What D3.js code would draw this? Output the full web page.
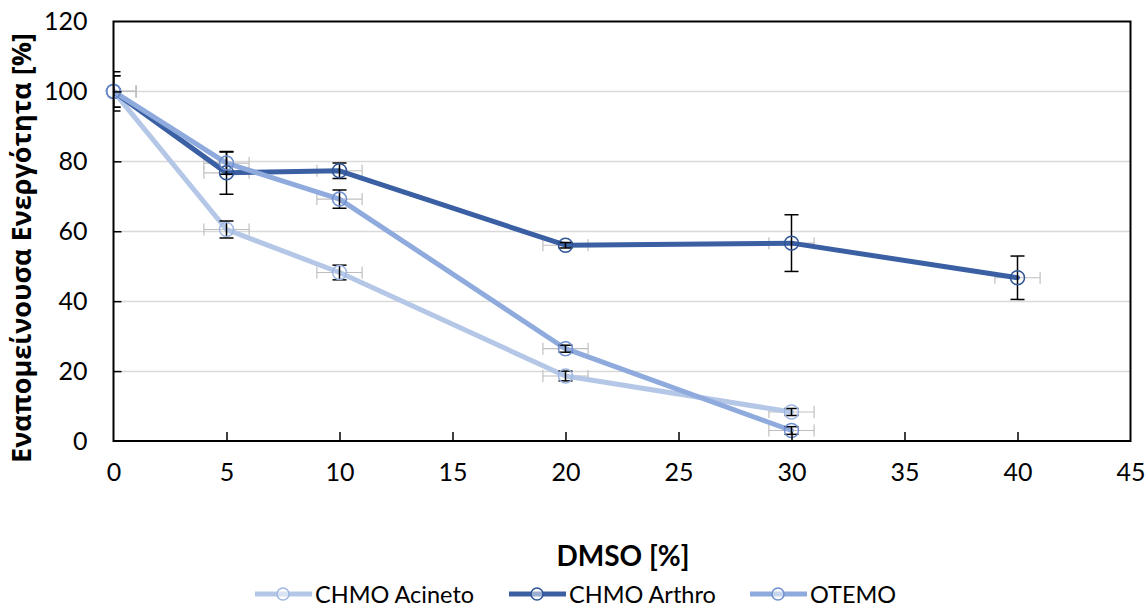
<!DOCTYPE html>
<html lang="el">
<head>
  <meta charset="UTF-8">
  <title>Εναπομείνουσα Ενεργότητα vs DMSO</title>
  <script src="https://d3js.org/d3.v7.min.js"></script>
  <style>
    body { margin: 0; background: #fff; font-family: Lato, 'Open Sans', sans-serif; }
    svg { display: block; }
  </style>
</head>
<body>
  <svg width="1146" height="607"></svg>
  <script>
    // series data: x = DMSO %, y = remaining activity %, err = y error
    const acinetoX = [0, 5, 10, 20, 30];
    const acinetoY = [100, 60.5, 48.2, 18.6, 8.3];
    const acinetoErr = [4.5, 2.4, 2.1, 1.4, 1.0];

    const arthroX = [0, 5, 10, 20, 30, 40];
    const arthroY = [100, 76.7, 77.3, 56.0, 56.6, 46.7];
    const arthroErr = [5.6, 6.1, 2.2, 0.8, 8.1, 6.2];

    const otemoX = [0, 5, 10, 20, 30];
    const otemoY = [100, 79.5, 69.2, 26.4, 3.0];
    const otemoErr = [4.5, 3.2, 2.6, 1.0, 1.1];

    const xErr = 1;
    const xTicks = [0, 5, 10, 15, 20, 25, 30, 35, 40, 45];
    const yTicks = [0, 20, 40, 60, 80, 100, 120];

    const seriesNames = ["CHMO Acineto", "CHMO Arthro", "OTEMO"];
    const lineColors = ["#b4c7e7", "#3a5fa3", "#8faadc"];
    const markerColors = ["#9fb7e2", "#2f5597", "#6f8fd0"];

    const series = [
      { name: seriesNames[0], x: acinetoX, y: acinetoY, e: acinetoErr },
      { name: seriesNames[1], x: arthroX, y: arthroY, e: arthroErr },
      { name: seriesNames[2], x: otemoX, y: otemoY, e: otemoErr }
    ].map((s, i) => ({
      ...s,
      line: lineColors[i],
      marker: markerColors[i],
      pts: s.x.map((v, j) => ({ x: v, y: s.y[j], e: s.e[j] }))
    }));

    const svg = d3.select("svg");
    const m = { left: 113.5, right: 1130.5, top: 21.5, bottom: 441 };

    const x = d3.scaleLinear().domain([0, 45]).range([m.left, m.right]);
    const y = d3.scaleLinear().domain([0, 120]).range([m.bottom, m.top]);

    svg.append("defs").append("clipPath").attr("id", "plotClip")
      .append("rect").attr("x", m.left).attr("y", m.top - 10)
      .attr("width", m.right - m.left).attr("height", m.bottom - m.top + 20);

    // gridlines
    svg.append("g")
      .selectAll("line")
      .data(yTicks.filter(t => t > 0 && t < 120))
      .join("line")
      .attr("x1", m.left).attr("x2", m.right)
      .attr("y1", d => Math.round(y(d)) + 0.5).attr("y2", d => Math.round(y(d)) + 0.5)
      .attr("stroke", "#d9d9d9").attr("stroke-width", 1.5);

    const plot = svg.append("g").attr("clip-path", "url(#plotClip)");

    // x error bars (grey)
    series.forEach(s => {
      const g = plot.append("g").attr("stroke", "#bfbfbf").attr("stroke-width", 1.2);
      s.pts.forEach(p => {
        const cy = y(p.y);
        g.append("line").attr("x1", x(p.x - xErr)).attr("x2", x(p.x + xErr)).attr("y1", cy).attr("y2", cy);
        g.append("line").attr("x1", x(p.x - xErr)).attr("x2", x(p.x - xErr)).attr("y1", cy - 6).attr("y2", cy + 6);
        g.append("line").attr("x1", x(p.x + xErr)).attr("x2", x(p.x + xErr)).attr("y1", cy - 6).attr("y2", cy + 6);
      });
    });

    // lines
    const lineGen = d3.line().x(d => x(d.x)).y(d => y(d.y));
    series.forEach(s => {
      plot.append("path")
        .datum(s.pts)
        .attr("fill", "none")
        .attr("stroke", s.line)
        .attr("stroke-width", 5)
        .attr("stroke-linejoin", "round")
        .attr("stroke-linecap", "round")
        .attr("d", lineGen);
    });

    // y error bars (black)
    series.forEach(s => {
      const g = plot.append("g").attr("stroke", "#000").attr("stroke-width", 1.5);
      s.pts.forEach(p => {
        const cx = x(p.x);
        g.append("line").attr("x1", cx).attr("x2", cx).attr("y1", y(p.y - p.e)).attr("y2", y(p.y + p.e));
        g.append("line").attr("x1", cx - 7).attr("x2", cx + 7).attr("y1", y(p.y - p.e)).attr("y2", y(p.y - p.e));
        g.append("line").attr("x1", cx - 7).attr("x2", cx + 7).attr("y1", y(p.y + p.e)).attr("y2", y(p.y + p.e));
      });
    });

    // markers
    series.forEach(s => {
      svg.append("g")
        .selectAll("circle")
        .data(s.pts)
        .join("circle")
        .attr("cx", d => x(d.x))
        .attr("cy", d => y(d.y))
        .attr("r", 7)
        .attr("fill", "none")
        .attr("stroke", s.marker)
        .attr("stroke-width", 1.5);
    });

    // plot box
    svg.append("rect")
      .attr("x", m.left).attr("y", m.top)
      .attr("width", m.right - m.left).attr("height", m.bottom - m.top)
      .attr("fill", "none").attr("stroke", "#000").attr("stroke-width", 2);

    // axes with inward ticks
    const xAxis = svg.append("g")
      .attr("transform", `translate(0,${m.bottom})`)
      .call(d3.axisBottom(x).tickValues(xTicks).tickSize(-9).tickPadding(22));
    const yAxis = svg.append("g")
      .attr("transform", `translate(${m.left},0)`)
      .call(d3.axisLeft(y).tickValues(yTicks).tickSize(-8).tickPadding(26));

    [xAxis, yAxis].forEach(a => {
      a.select(".domain").remove();
      a.selectAll(".tick line").attr("stroke", "#000").attr("stroke-width", 1.5);
      a.selectAll(".tick text")
        .attr("fill", "#000")
        .style("font-family", "Lato, 'Open Sans', sans-serif")
        .style("font-size", "25px");
    });
    xAxis.selectAll(".tick").filter(d => d === 0 || d === 45).select("line").remove();
    yAxis.selectAll(".tick").filter(d => d === 0 || d === 120).select("line").remove();

    // axis titles
    svg.append("text")
      .attr("x", 623).attr("y", 566)
      .attr("text-anchor", "middle")
      .style("font-size", "28px").style("font-weight", "bold")
      .text("DMSO [%]");

    svg.append("text")
      .attr("transform", "translate(31,248) rotate(-90)")
      .attr("text-anchor", "middle")
      .style("font-family", "'Open Sans', sans-serif")
      .style("font-size", "27px").style("font-weight", "bold")
      .text("Εναπομείνουσα Ενεργότητα [%]");

    // legend
    const legendX = [255, 509, 750];
    const legend = svg.append("g");
    series.forEach((s, i) => {
      const g = legend.append("g").attr("transform", `translate(${legendX[i]},594)`);
      g.append("line").attr("x1", 0).attr("x2", 57).attr("y1", 0).attr("y2", 0)
        .attr("stroke", s.line).attr("stroke-width", 5);
      g.append("circle").attr("cx", 28).attr("cy", 0).attr("r", 6)
        .attr("fill", "#fff").attr("fill-opacity", 0.5)
        .attr("stroke", s.marker).attr("stroke-width", 1.5);
      g.append("text").attr("x", 60).attr("y", 8.5)
        .style("font-size", "23.5px").text(s.name);
    });
  </script>
</body>
</html>
